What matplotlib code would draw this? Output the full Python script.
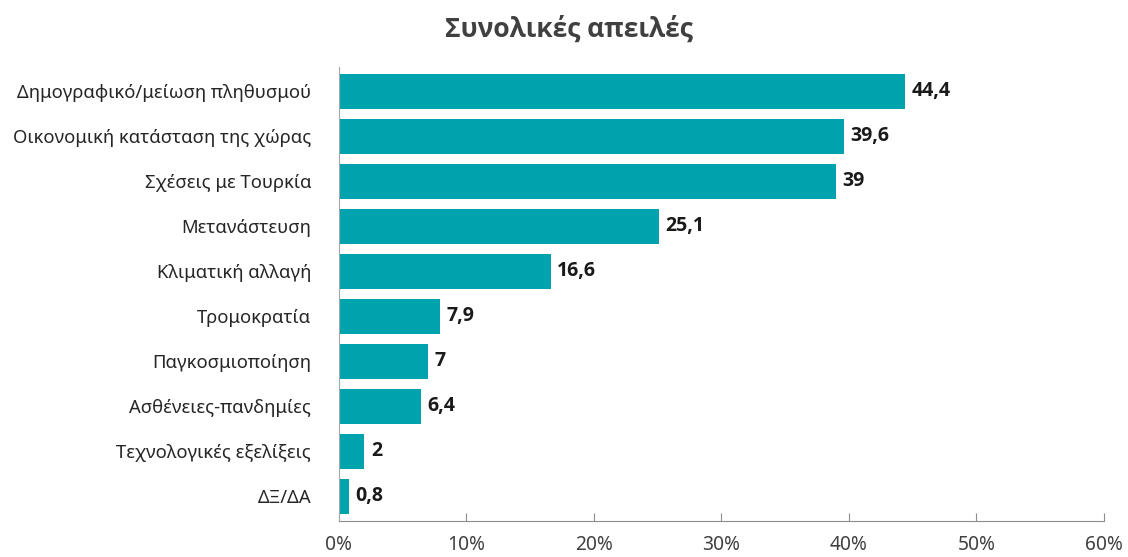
import matplotlib.pyplot as plt

categories = ['Δημογραφικό/μείωση πληθυσμού', 'Οικονομική κατάσταση της χώρας',
              'Σχέσεις με Τουρκία', 'Μετανάστευση', 'Κλιματική αλλαγή',
              'Τρομοκρατία', 'Παγκοσμιοποίηση', 'Ασθένειες-πανδημίες',
              'Τεχνολογικές εξελίξεις', 'ΔΞ/ΔΑ']
values = [44.4, 39.6, 39, 25.1, 16.6, 7.9, 7, 6.4, 2, 0.8]
xticks = [0, 10, 20, 30, 40, 50, 60]

plt.rcParams['font.family'] = ['Noto Sans', 'DejaVu Sans']
bold_family = ['Open Sans', 'DejaVu Sans']

fig = plt.figure(figsize=(11.28, 5.57), dpi=100)
ax = fig.add_axes([0.3005, 0.0646, 0.6782, 0.8151])

y = list(range(len(categories)))
ax.barh(y, values, height=0.77, color='#00A3AD')
ax.set_ylim(len(categories) - 0.45, -0.54)
ax.set_xlim(0, 60)

for yi, v in zip(y, values):
    lbl = ('%g' % v).replace('.', ',')
    ax.text(v + 0.5, yi, lbl, va='center', ha='left', fontsize=14,
            fontweight='bold', family=bold_family, color='#1a1a1a')

ax.set_yticks(y)
ax.set_yticklabels(categories, fontsize=13.3, color='#262626')
ax.tick_params(axis='y', length=0, pad=20)
ax.set_xticks(xticks)
ax.set_xticklabels(['%d%%' % t for t in xticks], fontsize=13.8, color='#404040')
ax.tick_params(axis='x', direction='in', length=6, color='#8c8c8c', pad=10)

for s in ['top', 'right']:
    ax.spines[s].set_visible(False)
ax.spines['left'].set_color('#a6a6a6')
ax.spines['bottom'].set_color('#8c8c8c')

fig.text(0.504, 0.947, 'Συνολικές απειλές', ha='center', va='center',
         fontsize=19, fontweight='bold', family=bold_family, color='#404040')

fig.savefig('out.png', dpi=100)
